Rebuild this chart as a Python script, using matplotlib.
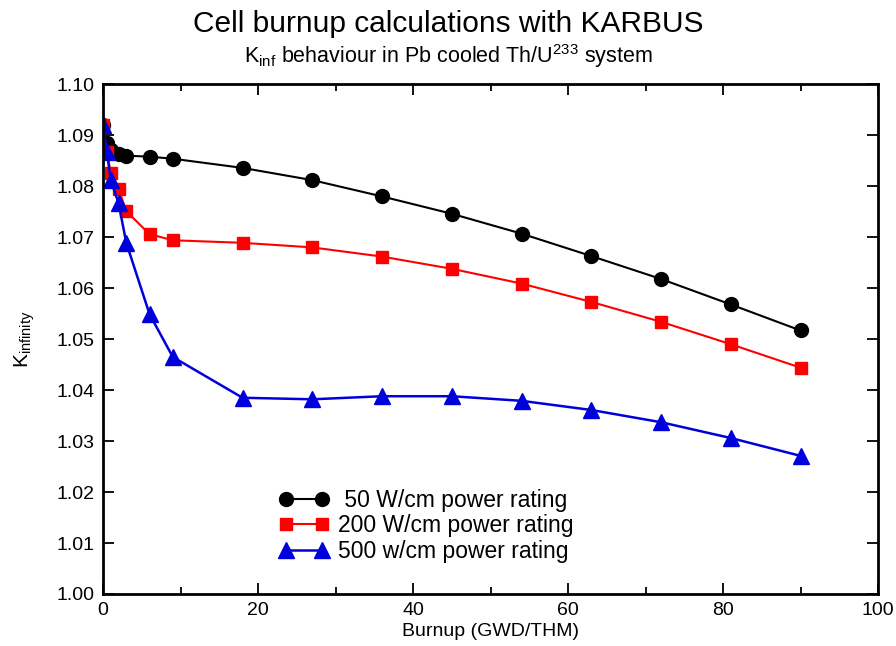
import numpy as np
import matplotlib
matplotlib.use("Agg")
import matplotlib.pyplot as plt
from matplotlib.ticker import MultipleLocator

plt.rcParams['font.family'] = ['Liberation Sans', 'DejaVu Sans']

# burnup (GWD/THM)
burnup = [0, 0.5, 1, 2, 3, 6, 9, 18, 27, 36, 45, 54, 63, 72, 81, 90]

# k-infinity for each power rating
k_50 = [1.0920, 1.0885, 1.0872, 1.0864, 1.0860, 1.0858, 1.0854, 1.0836,
        1.0812, 1.0780, 1.0746, 1.0707, 1.0663, 1.0618, 1.0568, 1.0517]
k_200 = [1.0920, 1.0867, 1.0826, 1.0795, 1.0751, 1.0706, 1.0694, 1.0689,
         1.0680, 1.0662, 1.0638, 1.0609, 1.0573, 1.0534, 1.0490, 1.0444]
k_500 = [1.0920, 1.0867, 1.0812, 1.0767, 1.0689, 1.0549, 1.0465, 1.0385,
         1.0382, 1.0388, 1.0388, 1.0379, 1.0361, 1.0337, 1.0306, 1.0271]

fig = plt.figure(figsize=(8.96, 6.46), dpi=100)
ax = fig.add_axes([0.115, 0.0805, 0.865, 0.789])

ax.plot(burnup, k_50, color="black", marker="o", ms=10, lw=1.5,
        label=" 50 W/cm power rating")
ax.plot(burnup, k_200, color="#ff0000", marker="s", ms=8.5, lw=1.5,
        label="200 W/cm power rating")
ax.plot(burnup, k_500, color="#0000dd", marker="^", ms=11, lw=1.8,
        label="500 w/cm power rating")

ax.set_xlim(0, 100)
ax.set_ylim(1.00, 1.10)
ax.xaxis.set_major_locator(MultipleLocator(20))
ax.xaxis.set_minor_locator(MultipleLocator(10))
ax.yaxis.set_major_locator(MultipleLocator(0.01))
ax.yaxis.set_major_formatter(matplotlib.ticker.FormatStrFormatter("%.2f"))
ax.tick_params(which="both", direction="in", top=True, right=True, width=1.3)
ax.tick_params(which="major", length=8, labelsize=14, pad=6)
ax.tick_params(which="minor", length=5)
for s in ax.spines.values():
    s.set_linewidth(2)

ax.set_xlabel("Burnup (GWD/THM)", fontsize=14, labelpad=3)
ax.set_ylabel(r"K$_{\mathregular{infinity}}$", fontsize=15, labelpad=14)

fig.text(0.5, 0.950, "Cell burnup calculations with KARBUS", ha="center",
         va="baseline", fontsize=21.5)
fig.text(0.5, 0.903, r"K$_{\mathregular{inf}}$ behaviour in Pb cooled Th/U$^{\mathregular{233}}$ system",
         ha="center", va="baseline", fontsize=15.5)

ax.legend(loc="lower left", bbox_to_anchor=(0.2, 0.02), frameon=False,
          fontsize=16.5, handlelength=2.2, handletextpad=0.4, labelspacing=0.12,
          numpoints=2)

fig.savefig("out.png", dpi=100)
